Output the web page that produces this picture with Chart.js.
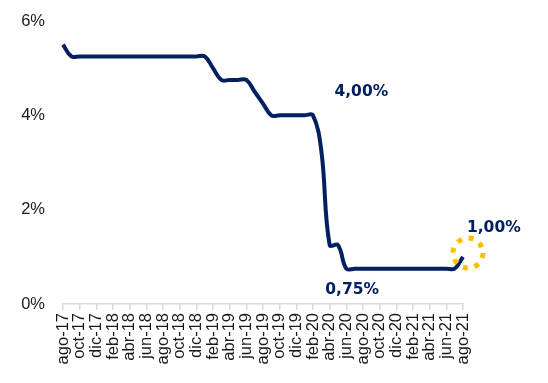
<!DOCTYPE html>
<html>
<head>
<meta charset="utf-8">
<script src="https://cdn.jsdelivr.net/npm/chart.js@4/dist/chart.umd.min.js"></script>
<style>
html,body{margin:0;padding:0;background:#fff;}
#wrap{width:548px;height:383px;position:relative;}
</style>
</head>
<body>
<div id="wrap"><canvas id="c" width="548" height="383"></canvas></div>
<script>
const months = ['ago-17','sep-17','oct-17','nov-17','dic-17','ene-18','feb-18','mar-18','abr-18','may-18','jun-18','jul-18','ago-18','sep-18','oct-18','nov-18','dic-18','ene-19','feb-19','mar-19','abr-19','may-19','jun-19','jul-19','ago-19','sep-19','oct-19','nov-19','dic-19','ene-20','feb-20','mar-20','abr-20','may-20','jun-20','jul-20','ago-20','sep-20','oct-20','nov-20','dic-20','ene-21','feb-21','mar-21','abr-21','may-21','jun-21','jul-21','ago-21'];
const rate = [5.5,5.25,5.25,5.25,5.25,5.25,5.25,5.25,5.25,5.25,5.25,5.25,5.25,5.25,5.25,5.25,5.25,5.25,5.0,4.75,4.75,4.75,4.75,4.5,4.25,4.0,4.0,4.0,4.0,4.0,4.0,3.25,1.25,1.25,0.75,0.75,0.75,0.75,0.75,0.75,0.75,0.75,0.75,0.75,0.75,0.75,0.75,0.75,1.0];
const yTicks = [0,2,4,6];
const notes = [
  {text:'4,00%', at:35.8, value:4.49},
  {text:'0,75%', at:34.7, value:0.3},
  {text:'1,00%', at:51.7, value:1.61}
];
const highlight = {at:48.6, value:1.08};

const overlay = {
  id:'overlay',
  afterDatasetsDraw(chart){
    const {ctx, scales:{x,y}} = chart;
    ctx.save();
    ctx.strokeStyle = '#FFC000';
    ctx.lineWidth = 5;
    ctx.setLineDash([5,6.8]);
    ctx.beginPath();
    ctx.arc(x.getPixelForValue(highlight.at), y.getPixelForValue(highlight.value), 15, 0, Math.PI*2);
    ctx.stroke();
    ctx.setLineDash([]);
    ctx.fillStyle = '#002060';
    ctx.font = 'bold 15.5px "DejaVu Sans"';
    ctx.textAlign = 'center';
    ctx.textBaseline = 'middle';
    notes.forEach(n=>{
      ctx.fillText(n.text, x.getPixelForValue(n.at), y.getPixelForValue(n.value));
    });
    ctx.restore();
  }
};

new Chart(document.getElementById('c'), {
  type:'line',
  data:{
    labels: months,
    datasets:[{
      data: rate,
      borderColor:'#002060',
      borderWidth:4,
      pointRadius:0,
      tension:0.4,
      fill:false
    }]
  },
  options:{
    responsive:false,
    animation:false,
    devicePixelRatio:1,
    layout:{padding:{left:0,right:85,top:21,bottom:0}},
    plugins:{legend:{display:false},tooltip:{enabled:false}},
    scales:{
      x:{
        type:'category',
        offset:false,
        grid:{display:true,drawOnChartArea:false,drawTicks:true,tickLength:6,color:'#d9d9d9',lineWidth:1.5},
        border:{display:true,color:'#d9d9d9',width:1.5},
        ticks:{
          autoSkip:false,
          minRotation:90,maxRotation:90,
          color:'#1a1a1a',
          padding:3,
          font:{family:'Liberation Sans',size:16.5},
          callback:function(v,i){ return i%2===0 ? months[i] : null; }
        },
        afterFit(s){ s.height = 79; }
      },
      y:{
        min:0,max:6,
        grid:{display:false},
        border:{display:false},
        afterBuildTicks(s){ s.ticks = yTicks.map(v=>({value:v})); },
        ticks:{
          color:'#1a1a1a',
          padding:10,
          font:{family:'Liberation Sans',size:16.5},
          callback:v=>v+'%'
        },
        afterFit(s){ s.width = 63; }
      }
    }
  },
  plugins:[overlay]
});
</script>
</body>
</html>
